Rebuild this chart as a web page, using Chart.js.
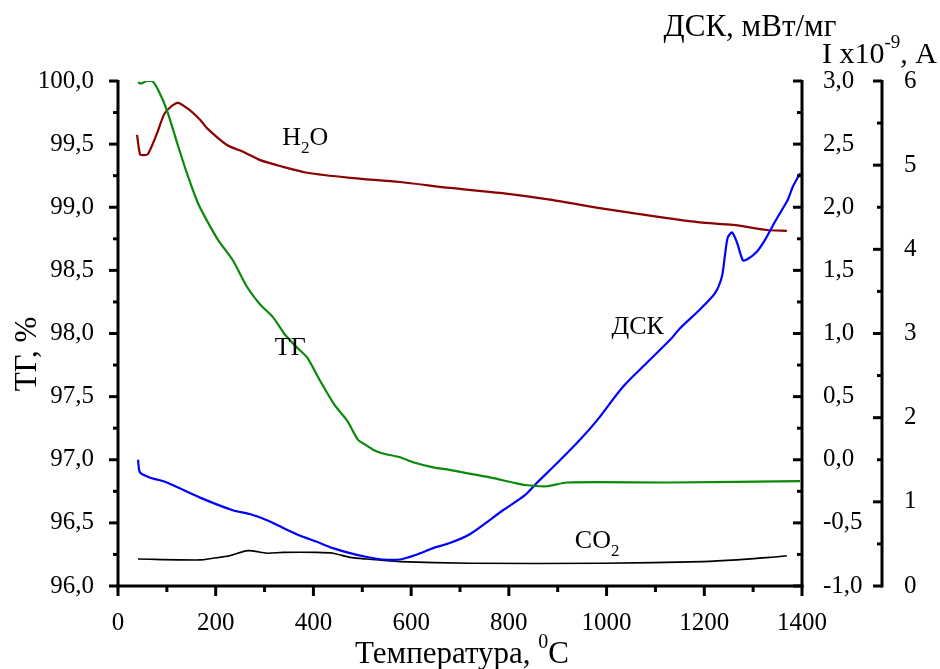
<!DOCTYPE html>
<html lang="ru">
<head>
    <meta charset="UTF-8">
    <title>ТГ / ДСК</title>
    <script src="https://cdn.jsdelivr.net/npm/chart.js"></script>
    <style>
        html, body { margin: 0; padding: 0; background: #fff; }
        #wrap { width: 940px; height: 669px; }
    </style>
</head>
<body>
<div id="wrap"><canvas id="chart" width="940" height="669"></canvas></div>
<script>
// ТГ, %
const tgT = [41, 47, 59, 70, 82, 100, 121, 141, 164, 184, 205, 235, 264, 291, 317, 342, 366, 387, 413, 444, 469, 491, 506, 522, 542, 577, 604, 645, 679, 720, 761, 808, 833, 878, 919, 1130, 1396];
const tgV = [99.99, 99.98, 100.0, 100.0, 99.93, 99.77, 99.51, 99.27, 99.03, 98.88, 98.74, 98.58, 98.37, 98.23, 98.13, 97.99, 97.89, 97.81, 97.63, 97.43, 97.31, 97.16, 97.12, 97.08, 97.05, 97.02, 96.98, 96.94, 96.92, 96.89, 96.86, 96.82, 96.80, 96.79, 96.82, 96.82, 96.83];

// ДСК, мВт/мг
const dskT = [41, 45, 65, 100, 168, 235, 270, 305, 338, 372, 407, 440, 475, 510, 542, 577, 612, 645, 679, 720, 788, 833, 858, 898, 946, 980, 1034, 1083, 1130, 1150, 1191, 1222, 1236, 1242, 1248, 1257, 1267, 1279, 1289, 1308, 1324, 1341, 1359, 1371, 1381, 1396];
const dskV = [0.00, -0.10, -0.14, -0.18, -0.30, -0.40, -0.43, -0.48, -0.54, -0.60, -0.65, -0.70, -0.74, -0.77, -0.79, -0.79, -0.75, -0.70, -0.66, -0.59, -0.40, -0.28, -0.18, -0.03, 0.16, 0.31, 0.58, 0.77, 0.95, 1.04, 1.19, 1.32, 1.45, 1.61, 1.76, 1.80, 1.72, 1.58, 1.59, 1.65, 1.74, 1.86, 1.98, 2.06, 2.16, 2.27];

// I x10^-9, A : H2O
const h2oT = [39, 45, 51, 61, 80, 96, 121, 141, 168, 182, 223, 256, 291, 338, 387, 475, 577, 679, 782, 884, 986, 1054, 1124, 1191, 1259, 1328, 1369];
const h2oV = [5.36, 5.13, 5.12, 5.13, 5.38, 5.62, 5.74, 5.68, 5.54, 5.44, 5.24, 5.16, 5.06, 4.98, 4.91, 4.85, 4.80, 4.73, 4.67, 4.59, 4.49, 4.43, 4.37, 4.32, 4.29, 4.23, 4.22];

// I x10^-9, A : CO2
const co2T = [41, 168, 194, 229, 266, 305, 338, 407, 440, 475, 510, 577, 720, 993, 1197, 1267, 1334, 1369];
const co2V = [0.32, 0.31, 0.33, 0.36, 0.42, 0.39, 0.40, 0.40, 0.39, 0.34, 0.32, 0.29, 0.27, 0.27, 0.29, 0.31, 0.34, 0.36];

const xTicks = [0, 200, 400, 600, 800, 1000, 1200, 1400];

const SERIF = '"Liberation Serif", "DejaVu Serif", serif';

function pts(xs, ys) {
    return xs.map((x, i) => ({ x: x, y: ys[i] }));
}
function comma(v) {
    return v.toFixed(1).replace('.', ',');
}

// оси, тики и подписи рисуем сами
const axesPlugin = {
    id: 'axes',
    afterDraw(chart) {
        const ctx = chart.ctx;
        const a = chart.chartArea;
        const sx = chart.scales.x, sy = chart.scales.y, s1 = chart.scales.y1, s2 = chart.scales.y2;
        ctx.save();
        ctx.strokeStyle = '#000';
        ctx.lineWidth = 3;
        ctx.lineCap = 'butt';
        function line(x1, y1, x2, y2) {
            ctx.beginPath(); ctx.moveTo(x1, y1); ctx.lineTo(x2, y2); ctx.stroke();
        }
        // линии осей
        line(a.left, a.top - 1, a.left, a.bottom + 1.5);
        line(a.left - 1.5, a.bottom, a.right + 1.5, a.bottom);
        line(a.right, a.top - 1, a.right, a.bottom + 1.5);
        const x2 = s2.left;
        line(x2, a.top - 1, x2, a.bottom + 1.5);

        // x
        for (let v = 0; v <= 1400; v += 100) {
            const px = sx.getPixelForValue(v);
            line(px, a.bottom, px, a.bottom + (v % 200 === 0 ? 10 : 6));
        }
        // ТГ
        for (let v = 96; v <= 100.001; v += 0.25) {
            const py = sy.getPixelForValue(v);
            const major = Math.abs(v * 2 - Math.round(v * 2)) < 1e-6;
            line(a.left, py, a.left - (major ? 9 : 5), py);
        }
        // ДСК
        for (let v = -1; v <= 3.001; v += 0.25) {
            const py = s1.getPixelForValue(v);
            const major = Math.abs(v * 2 - Math.round(v * 2)) < 1e-6;
            line(a.right, py, a.right - (major ? 9 : 5), py);
        }
        // I
        for (let v = 0; v <= 6.001; v += 0.5) {
            const py = s2.getPixelForValue(v);
            const major = Math.abs(v - Math.round(v)) < 1e-6;
            line(x2, py, x2 - (major ? 9 : 5), py);
        }

        ctx.fillStyle = '#000';
        ctx.textBaseline = 'alphabetic';

        // название оси Y слева
        ctx.save();
        ctx.translate(36, 354);
        ctx.rotate(-Math.PI / 2);
        ctx.textAlign = 'center';
        ctx.font = '31px ' + SERIF;
        ctx.fillText('ТГ, %', 0, 0);
        ctx.restore();

        // название оси X
        ctx.textAlign = 'left';
        ctx.font = '31px ' + SERIF;
        const t1 = 'Температура, ';
        const w1 = ctx.measureText(t1).width;
        ctx.font = '20px ' + SERIF;
        const w2 = ctx.measureText('0').width;
        ctx.font = '31px ' + SERIF;
        const w3 = ctx.measureText('C').width;
        let tx = (a.left + a.right) / 2 - (w1 + w2 + w3) / 2 + 2;
        const ty = 663;
        ctx.fillText(t1, tx, ty);
        ctx.font = '20px ' + SERIF;
        ctx.fillText('0', tx + w1, ty - 15);
        ctx.font = '31px ' + SERIF;
        ctx.fillText('C', tx + w1 + w2, ty);

        // ДСК, мВт/мг
        ctx.textAlign = 'center';
        ctx.font = '31px ' + SERIF;
        ctx.fillText('ДСК, мВт/мг', 750, 36);

        // I x10^-9, A
        ctx.textAlign = 'left';
        ctx.font = '30px ' + SERIF;
        let ix = 822;
        const iy = 63;
        ctx.fillText('I x10', ix, iy);
        ix += ctx.measureText('I x10').width;
        ctx.font = '19px ' + SERIF;
        ctx.fillText('-9', ix, iy - 15);
        ix += ctx.measureText('-9').width;
        ctx.font = '30px ' + SERIF;
        ctx.fillText(', A', ix, iy);

        // подписи кривых
        function sub(main1, s, main2, px, py) {
            ctx.font = '26px ' + SERIF;
            ctx.fillText(main1, px, py);
            let x = px + ctx.measureText(main1).width;
            ctx.font = '17px ' + SERIF;
            ctx.fillText(s, x, py + 8);
            x += ctx.measureText(s).width;
            ctx.font = '26px ' + SERIF;
            ctx.fillText(main2, x, py);
        }
        ctx.textAlign = 'left';
        sub('H', '2', 'O', sx.getPixelForValue(336), s2.getPixelForValue(5.24));
        sub('CO', '2', '', sx.getPixelForValue(935), s2.getPixelForValue(0.45));
        ctx.font = '26px ' + SERIF;
        ctx.fillText('ТГ', sx.getPixelForValue(321), sy.getPixelForValue(97.83));
        ctx.fillText('ДСК', sx.getPixelForValue(1010), s1.getPixelForValue(1.0));
        ctx.restore();
    }
};

const tickFont = { family: SERIF, size: 25 };

new Chart(document.getElementById('chart'), {
    type: 'line',
    data: {
        datasets: [
            { label: 'ТГ', data: pts(tgT, tgV), yAxisID: 'y', borderColor: '#0a8a0a', borderWidth: 2.2 },
            { label: 'ДСК', data: pts(dskT, dskV), yAxisID: 'y1', borderColor: '#0000ff', borderWidth: 2.2 },
            { label: 'H2O', data: pts(h2oT, h2oV), yAxisID: 'y2', borderColor: '#8b0000', borderWidth: 2.2 },
            { label: 'CO2', data: pts(co2T, co2V), yAxisID: 'y2', borderColor: '#000000', borderWidth: 1.6 }
        ]
    },
    options: {
        responsive: false,
        animation: false,
        elements: {
            point: { radius: 0 },
            line: { tension: 0.25, fill: false }
        },
        layout: { padding: { top: 81, left: 0, right: 0, bottom: 0 } },
        plugins: {
            legend: { display: false },
            tooltip: { enabled: false }
        },
        scales: {
            x: {
                type: 'linear',
                min: 0, max: 1400,
                afterBuildTicks: s => { s.ticks = xTicks.map(v => ({ value: v })); },
                ticks: { font: tickFont, color: '#000', padding: 14, maxRotation: 0, callback: v => String(v) },
                grid: { display: false },
                border: { display: false },
                afterFit: s => { s.height = 83; }
            },
            y: {
                position: 'left',
                min: 96, max: 100,
                ticks: { stepSize: 0.5, font: tickFont, color: '#000', padding: 16, callback: v => comma(v) },
                grid: { display: false },
                border: { display: false },
                afterFit: s => { s.width = 118; }
            },
            y1: {
                position: 'right',
                min: -1, max: 3,
                ticks: { stepSize: 0.5, font: tickFont, color: '#000', padding: 13, callback: v => comma(v) },
                grid: { display: false },
                border: { display: false },
                afterFit: s => { s.width = 80; }
            },
            y2: {
                position: 'right',
                min: 0, max: 6,
                ticks: { stepSize: 1, font: tickFont, color: '#000', padding: 14 },
                grid: { display: false },
                border: { display: false },
                afterFit: s => { s.width = 58; }
            }
        }
    },
    plugins: [axesPlugin]
});
</script>
</body>
</html>
